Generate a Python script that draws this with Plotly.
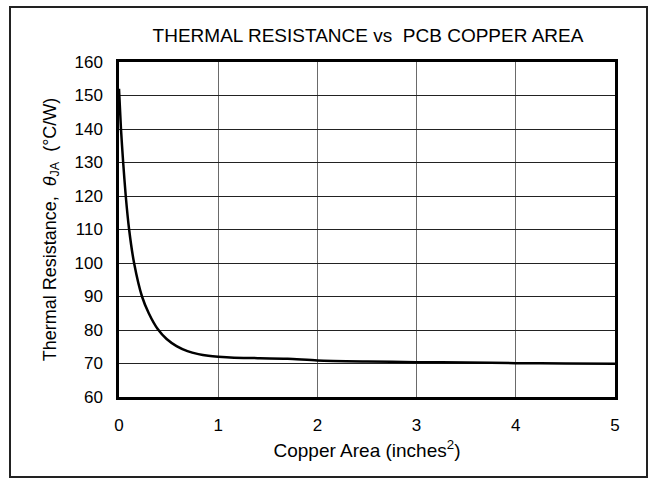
import plotly.graph_objects as go

copper_area = [0, 0.02, 0.042, 0.068, 0.102, 0.152, 0.232, 0.30, 0.392, 0.48, 0.58, 0.69,
               0.8, 0.9, 1.0, 1.16, 1.4, 1.7, 2.0, 2.5, 3.0, 3.5, 4.0, 4.5, 5.0]
theta_ja = [152, 140, 130, 120, 110, 100, 90, 85.0, 80.2, 77.3, 75.2, 73.7,
            72.8, 72.3, 72.0, 71.7, 71.6, 71.4, 70.9, 70.6, 70.4, 70.3, 70.1, 70.0, 69.9]

x_ticks = [0, 1, 2, 3, 4, 5]
y_ticks = [60, 70, 80, 90, 100, 110, 120, 130, 140, 150, 160]

FONT = "Liberation Sans, Arial, sans-serif"

fig = go.Figure()
fig.add_trace(go.Scatter(x=copper_area, y=theta_ja, mode="lines",
                         line=dict(color="black", width=2.5, shape="spline", smoothing=0.7),
                         showlegend=False, hoverinfo="skip"))

L, R, T, B = 119, 40, 62, 88
W, H = 655, 485
pw, ph = W - L - R, H - T - B

fig.update_layout(
    width=W, height=H,
    margin=dict(l=L, r=R, t=T, b=B, autoexpand=False),
    paper_bgcolor="white", plot_bgcolor="white",
    font=dict(family=FONT, size=17, color="black"),
    title=dict(text="THERMAL RESISTANCE vs  PCB COPPER AREA", x=(368 - L) / pw, xref="paper",
               xanchor="center", y=1 - 35 / H, yanchor="middle", yref="container",
               font=dict(family=FONT, size=19, color="black")),
    xaxis=dict(range=[0, 5], tickvals=x_ticks, ticktext=[str(v) for v in x_ticks],
               showgrid=True, gridcolor="#6a6a6a", gridwidth=1, automargin=False,
               showline=True, linecolor="black", linewidth=2.5, mirror=True,
               ticks="outside", ticklen=11, tickcolor="rgba(0,0,0,0)",
               zeroline=False, tickfont=dict(size=17),
               title=dict(text="Copper Area (inches<sup>2</sup>)", font=dict(size=19), standoff=10)),
    yaxis=dict(range=[60, 160], tickvals=y_ticks, ticktext=[str(v) for v in y_ticks],
               showgrid=True, gridcolor="#222", gridwidth=1, automargin=False,
               showline=True, linecolor="black", linewidth=2.5, mirror=True,
               ticks="outside", ticklen=10, tickcolor="rgba(0,0,0,0)",
               zeroline=False, tickfont=dict(size=17),
               title=dict(text="Thermal Resistance,  <i>θ</i><sub>JA</sub>  (°C/W)", font=dict(size=18), standoff=14)),
)

# outer frame around the whole chart
fig.add_shape(type="rect", xref="paper", yref="paper",
              x0=(10 - L) / pw, x1=(647 - L) / pw,
              y0=(H - B - 477) / ph, y1=(H - B - 7) / ph,
              line=dict(color="#222", width=2), layer="below")

fig.write_html("out.html", config={"displayModeBar": False},
               post_script="document.body.style.margin='0px';")
